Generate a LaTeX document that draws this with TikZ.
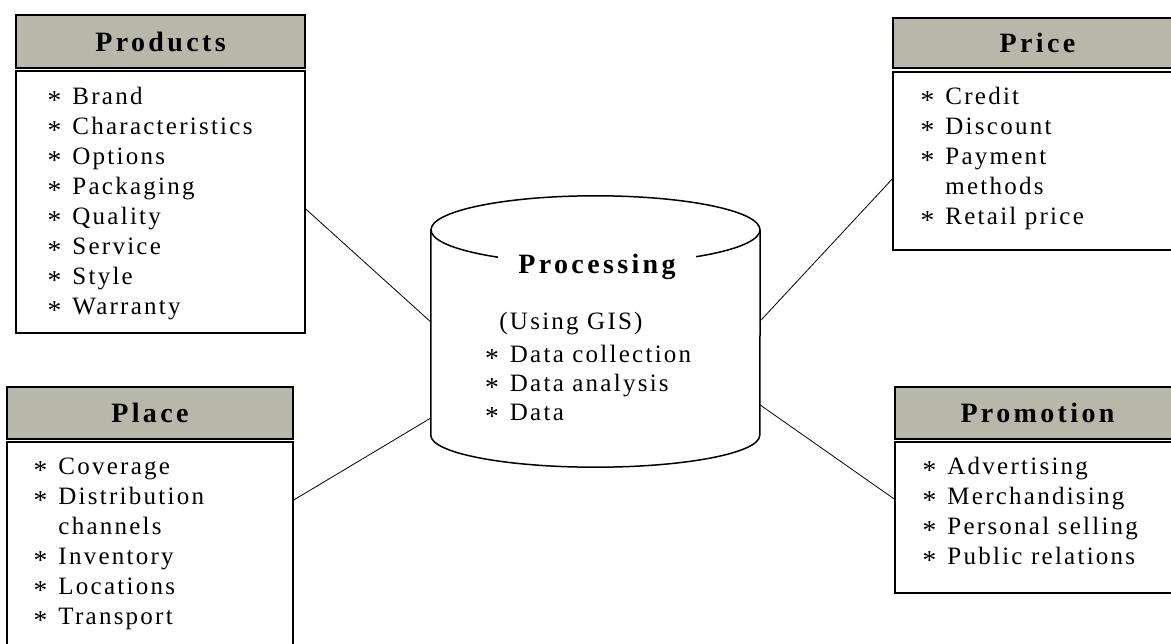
\documentclass[tikz,border=0pt]{standalone}
\usepackage{graphicx}
\usepackage{fontspec}
\newfontfamily\diafont{Liberation Serif}[LetterSpace=9]
\newfontfamily\hdrfont{Liberation Serif}[LetterSpace=12]
\definecolor{hdr}{RGB}{183,183,170}
\newcommand{\bulstar}{\raisebox{-5pt}{\scalebox{1.1}{*}}}
\begin{document}
\begin{tikzpicture}[x=1pt,y=-1pt,
  hdrbox/.style={draw, line width=1.5pt, fill=hdr, inner sep=0pt, font=\hdrfont\bfseries\fontsize{28}{30}\selectfont},
  bodybox/.style={draw, line width=1.5pt, fill=white, inner sep=0pt},
  listtxt/.style={anchor=north west, inner sep=0pt, font=\diafont\fontsize{25}{30}\selectfont},
  link/.style={line width=0.8pt},
  cyl/.style={line width=1.5pt}]
\useasboundingbox (0,0) rectangle (1171,644);
\clip (0,0) rectangle (1171,644);
% Products
\node[hdrbox, minimum width=289pt, minimum height=53pt] (prodhdr) at (160.5,41.5) {Products};
\node[bodybox, minimum width=289pt, minimum height=262pt] (prodbody) at (160.5,202) {};
\node[listtxt] (prodlist) at (47.5,83) {\begin{tabular}{@{}l@{\hspace{11pt}}l@{}}
\bulstar & Brand\\ \bulstar & Characteristics\\ \bulstar & Options\\ \bulstar & Packaging\\
\bulstar & Quality\\ \bulstar & Service\\ \bulstar & Style\\ \bulstar & Warranty
\end{tabular}};
% Price
\node[hdrbox, minimum width=289pt, minimum height=50pt] (pricehdr) at (1037.5,43) {Price};
\node[bodybox, minimum width=289pt, minimum height=178pt] (pricebody) at (1037.5,161) {};
\node[listtxt] (pricelist) at (920.5,83) {\begin{tabular}{@{}l@{\hspace{11pt}}l@{}}
\bulstar & Credit\\ \bulstar & Discount\\ \bulstar & Payment\\ & methods\\ \bulstar & Retail price
\end{tabular}};
% Place
\node[hdrbox, minimum width=286pt, minimum height=52pt] (placehdr) at (150,413) {Place};
\node[bodybox, minimum width=286pt, minimum height=218pt] (placebody) at (150,551) {};
\node[listtxt] (placelist) at (33.5,453) {\begin{tabular}{@{}l@{\hspace{11pt}}l@{}}
\bulstar & Coverage\\ \bulstar & Distribution\\ & channels\\ \bulstar & Inventory\\
\bulstar & Locations\\ \bulstar & Transport
\end{tabular}};
% Promotion
\node[hdrbox, minimum width=285pt, minimum height=52pt] (promohdr) at (1037.5,413) {Promotion};
\node[bodybox, minimum width=285pt, minimum height=151pt] (promobody) at (1037.5,517.5) {};
\node[listtxt] (promolist) at (922.5,453) {\begin{tabular}{@{}l@{\hspace{11pt}}l@{}}
\bulstar & Advertising\\ \bulstar & Merchandising\\ \bulstar & Personal selling\\ \bulstar & Public relations
\end{tabular}};
% Processing cylinder
\node[inner sep=0pt, minimum width=329pt, minimum height=205pt] (proc) at (595.5,332.5) {};
\draw[cyl] (proc.north) ellipse [x radius=164.5, y radius=34];
\draw[cyl] (proc.north west) -- (proc.south west) arc [start angle=180, end angle=0, x radius=164.5, y radius=32] -- (proc.north east);
\node[fill=white, inner xsep=20pt, inner ysep=3pt, font=\hdrfont\bfseries\fontsize{28}{30}\selectfont] (proctitle) at (597,267) {Processing};
\node[anchor=base, inner sep=0pt, font=\diafont\fontsize{25}{29}\selectfont] (gis) at (571,330) {(Using GIS)};
\node[anchor=north west, inner sep=0pt, font=\diafont\fontsize{25}{29}\selectfont] (proclist) at (485,341.7) {\begin{tabular}{@{}l@{\hspace{11pt}}l@{}}
\bulstar & Data collection\\ \bulstar & Data analysis\\ \bulstar & Data
\end{tabular}};
% connectors
\draw[link] ([yshift=-7pt]prodbody.east) -- ([yshift=10.5pt]proc.west);
\draw[link] ([yshift=51pt]placebody.east) -- ([yshift=-85.5pt]proc.west);
\draw[link] ([yshift=-18pt]pricebody.west) -- ([yshift=11.5pt]proc.east);
\draw[link] ([yshift=18.5pt]promobody.west) -- ([yshift=-72.5pt]proc.east);
\end{tikzpicture}
\end{document}
